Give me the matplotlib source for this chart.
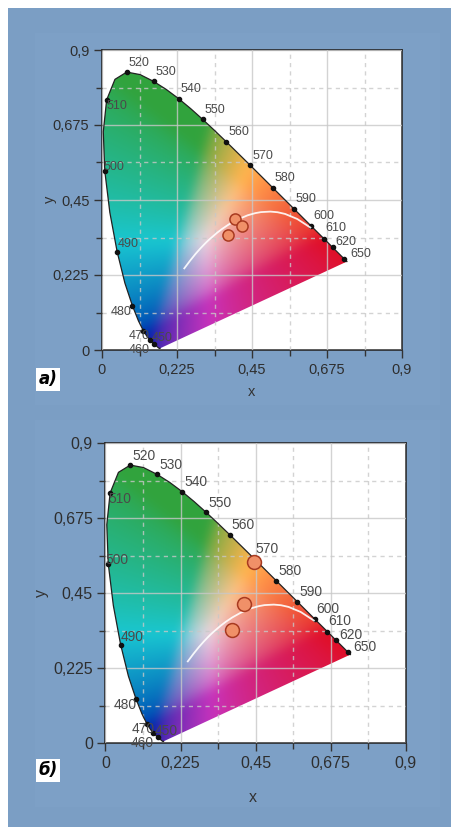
import numpy as np
import matplotlib
matplotlib.use("Agg")
import matplotlib.pyplot as plt
from matplotlib.patches import Polygon, Rectangle
from matplotlib.ticker import FixedLocator, FixedFormatter

# CIE 1931 spectral locus (x, y), 380..700 nm
locus_x = [0.1741, 0.1740, 0.1738, 0.1736, 0.1733, 0.1730, 0.1726, 0.1721, 0.1714, 0.1703,
           0.1689, 0.1669, 0.1644, 0.1611, 0.1566, 0.1510, 0.1440, 0.1355, 0.1241, 0.1096,
           0.0913, 0.0687, 0.0454, 0.0235, 0.0082, 0.0039, 0.0139, 0.0389, 0.0743, 0.1142,
           0.1547, 0.1929, 0.2296, 0.2658, 0.3016, 0.3373, 0.3731, 0.4087, 0.4441, 0.4788,
           0.5125, 0.5448, 0.5752, 0.6029, 0.6270, 0.6482, 0.6658, 0.6801, 0.6915, 0.7006,
           0.7079, 0.7140, 0.7190, 0.7230, 0.7260, 0.7283, 0.7300, 0.7311, 0.7320, 0.7334,
           0.7344, 0.7347]
locus_y = [0.0050, 0.0050, 0.0049, 0.0049, 0.0048, 0.0048, 0.0048, 0.0048, 0.0051, 0.0058,
           0.0069, 0.0086, 0.0109, 0.0138, 0.0177, 0.0227, 0.0297, 0.0399, 0.0578, 0.0868,
           0.1327, 0.2007, 0.2950, 0.4127, 0.5384, 0.6548, 0.7502, 0.8120, 0.8338, 0.8262,
           0.8059, 0.7816, 0.7543, 0.7243, 0.6923, 0.6589, 0.6245, 0.5896, 0.5547, 0.5202,
           0.4866, 0.4544, 0.4242, 0.3965, 0.3725, 0.3514, 0.3340, 0.3197, 0.3083, 0.2993,
           0.2920, 0.2859, 0.2809, 0.2770, 0.2740, 0.2717, 0.2700, 0.2689, 0.2680, 0.2666,
           0.2656, 0.2653]

# labelled wavelengths and their chromaticity
wl_labels = ["450", "460", "470", "480", "490", "500", "510", "520", "530", "540",
             "550", "560", "570", "580", "590", "600", "610", "620", "650"]
wl_x = [0.1566, 0.1440, 0.1241, 0.0913, 0.0454, 0.0082, 0.0139, 0.0743, 0.1547, 0.2296,
        0.3016, 0.3731, 0.4441, 0.5125, 0.5752, 0.6270, 0.6658, 0.6915, 0.7260]
wl_y = [0.0177, 0.0297, 0.0578, 0.1327, 0.2950, 0.5384, 0.7502, 0.8338, 0.8059, 0.7543,
        0.6923, 0.6245, 0.5547, 0.4866, 0.4242, 0.3725, 0.3340, 0.3083, 0.2740]

# Planckian locus, from very high temperature down to ~1200 K
planck_x = [0.2469, 0.2565, 0.2637, 0.2807, 0.2952, 0.3064, 0.3135, 0.3221, 0.3451, 0.3608,
            0.3805, 0.4053, 0.4369, 0.4599, 0.4770, 0.5052, 0.5267, 0.5493, 0.5857, 0.6251]
planck_y = [0.2449, 0.2577, 0.2673, 0.2884, 0.3048, 0.3166, 0.3237, 0.3318, 0.3516, 0.3636,
            0.3768, 0.3907, 0.4041, 0.4106, 0.4137, 0.4152, 0.4133, 0.4082, 0.3931, 0.3674]

# measured points
pts_a_x = [0.399, 0.421, 0.378]
pts_a_y = [0.393, 0.372, 0.345]
pts_b_x = [0.446, 0.417, 0.379]
pts_b_y = [0.544, 0.416, 0.339]

major_ticks = [0, 0.225, 0.45, 0.675, 0.9]
major_labels = ["0", "0,225", "0,45", "0,675", "0,9"]
minor_ticks = [0.1125, 0.3375, 0.5625, 0.7875]

# label offsets in pixels (dx, dy up, ha) relative to the locus dot
label_off = ([(8, 6, "center"), (-11, -10, "center"), (-4, -5, "center"), (-11, -6, "center"),
              (11, 8, "center"), (9, 4, "center"), (10, -6, "center")]
             + [(2, 9.5, "left")] * 9
             + [(1, 11, "left"), (3, 5, "left"), (6, 5, "left")])

W, H = 451, 827
BG = "#7b9ec4"

M = np.array([[3.2406, -1.5372, -0.4986],
              [-0.9689, 1.8758, 0.0415],
              [0.0557, -0.2040, 1.0570]])
# tone mapping to the muted print colours of the original
TONE = np.array([[0.835, 0.150, -0.095],
                 [0.070, 0.650, 0.140],
                 [0.070, 0.150, 0.580]])
TONE_B = np.array([0.045, -0.010, 0.090])


def blur(a, sigma):
    r = int(3 * sigma)
    k = np.exp(-0.5 * (np.arange(-r, r + 1) / sigma) ** 2)
    k /= k.sum()
    p = np.pad(a, ((r, r), (r, r), (0, 0)), mode="edge")
    p = np.apply_along_axis(lambda v: np.convolve(v, k, mode="valid"), 0, p)
    p = np.apply_along_axis(lambda v: np.convolve(v, k, mode="valid"), 1, p)
    return p


def chroma_image(n=360):
    gx, gy = np.meshgrid(np.linspace(0, 0.9, n), np.linspace(0, 0.9, n))
    ys = np.maximum(gy, 1e-4)
    xyz = np.stack([gx / ys, np.ones_like(gx), (1 - gx - gy) / ys], -1)
    rgb = np.clip(xyz @ M.T, 0, None)
    rgb = rgb / (rgb.max(axis=-1, keepdims=True) + 1e-9)
    rgb = np.where(rgb <= 0.0031308, 12.92 * rgb, 1.055 * rgb ** (1 / 2.4) - 0.055)
    rgb[..., 2] = rgb[..., 2] ** 1.3
    rgb = rgb @ TONE.T + TONE_B
    rgb = blur(np.clip(rgb, 0, 1), 6)
    return np.clip(rgb, 0, 1)


IMG = chroma_image()


def px_to_fig(x, y):
    return x / W, 1 - y / H


def draw_panel(ax, px, py, msize, fs):
    ax.set_xlim(0, 0.9)
    ax.set_ylim(0, 0.9)
    ax.set_facecolor("white")
    im = ax.imshow(IMG, extent=[0, 0.9, 0, 0.9], origin="lower", interpolation="bilinear", zorder=0)
    poly = Polygon(np.column_stack([locus_x, locus_y]), closed=True, facecolor="none", edgecolor="none")
    ax.add_patch(poly)
    im.set_clip_path(poly)

    ax.xaxis.set_major_locator(FixedLocator(major_ticks))
    ax.yaxis.set_major_locator(FixedLocator(major_ticks))
    ax.xaxis.set_major_formatter(FixedFormatter(major_labels))
    ax.yaxis.set_major_formatter(FixedFormatter(major_labels))
    ax.xaxis.set_minor_locator(FixedLocator(minor_ticks))
    ax.yaxis.set_minor_locator(FixedLocator(minor_ticks))
    ax.set_axisbelow(False)
    ax.grid(which="major", color="#c8c8c8", alpha=0.8, lw=1.0, ls="-")
    ax.grid(which="minor", color="#c8c8c8", alpha=0.8, lw=1.0, ls=(0, (3, 3)))
    ax.tick_params(which="major", direction="out", length=6, width=1, color="#333333",
                   labelsize=fs, labelcolor="#2e2e2e", pad=3)
    ax.tick_params(which="minor", direction="out", length=4, width=1, color="#333333")
    for s in ax.spines.values():
        s.set_color("#2a2a2a")
        s.set_linewidth(1.2)

    ax.plot(locus_x, locus_y, color="#222222", lw=0.9, zorder=3)
    ax.plot(wl_x, wl_y, "o", color="#111111", ms=3, zorder=4)
    for lab, x, y, (dx, dy, ha) in zip(wl_labels, wl_x, wl_y, label_off):
        ax.annotate(lab, (x, y), xytext=(dx * 0.72, dy * 0.72), textcoords="offset points",
                    ha=ha, va="center", fontsize=fs * 0.86, color="#4a4a4a", zorder=5)

    ax.plot(planck_x, planck_y, color="white", lw=1.3, alpha=0.9, zorder=4)
    ax.plot(px, py, "o", ms=msize, mfc="#f09068", mec="#a83a20", mew=1.1, zorder=6)


fig = plt.figure(figsize=(W / 100, H / 100), dpi=100)
fig.patch.set_facecolor("white")
fig.add_artist(Rectangle((8 / W, 0), 1 - 8 / W, 1 - 8 / H, transform=fig.transFigure,
                         facecolor=BG, edgecolor="none", zorder=0))
for (x0, y0, x1, y1) in [(35, 33, 440, 405), (35, 420, 440, 807)]:
    fig.add_artist(Rectangle((x0 / W, 1 - y1 / H), (x1 - x0) / W, (y1 - y0) / H,
                             transform=fig.transFigure, facecolor="#7da0c6", edgecolor="none", zorder=0))

plt.rcParams["font.family"] = ["Liberation Sans", "DejaVu Sans"]

ax_a = fig.add_axes([101 / W, 1 - 350 / H, 302 / W, 300 / H])
draw_panel(ax_a, pts_a_x, pts_a_y, 8, 10.5)
ax_b = fig.add_axes([105 / W, 1 - 743 / H, 301 / W, 300 / H])
draw_panel(ax_b, pts_b_x, pts_b_y, 10, 11.5)

for (tx, ty, rot, txt, fs) in [(252, 392, 0, "x", 10.5), (50, 199, 90, "y", 10.5),
                               (253, 797, 0, "x", 11.5), (41, 593, 90, "y", 11.5)]:
    fx, fy = px_to_fig(tx, ty)
    fig.text(fx, fy, txt, rotation=rot, ha="center", va="center", fontsize=fs, color="#333333")

for (tx, ty, txt) in [(48, 379, "a)"), (48, 770, "б)")]:
    fx, fy = px_to_fig(tx, ty)
    fig.text(fx, fy, txt, ha="center", va="center", fontsize=12, fontweight="bold", fontstyle="italic",
             family="DejaVu Sans", color="black",
             bbox=dict(boxstyle="square,pad=0.15", facecolor="white", edgecolor="none"))

fig.savefig("out.png", dpi=100)
